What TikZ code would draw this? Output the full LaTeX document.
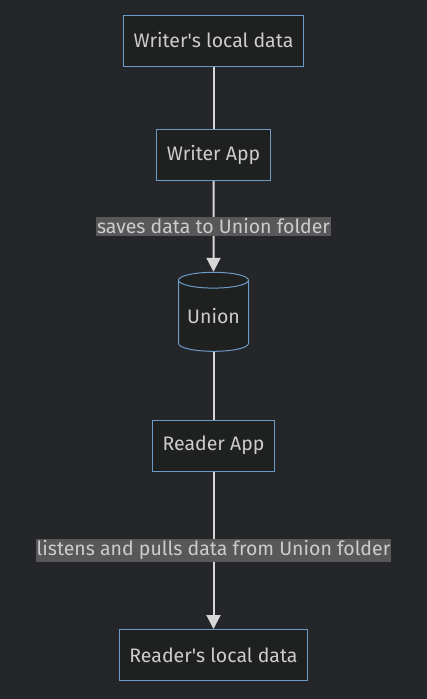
\documentclass[tikz,border=0pt]{standalone}
\usepackage{fontspec}
\setmainfont{Fira Sans}
\usetikzlibrary{arrows.meta,positioning,shapes.geometric}
\definecolor{bgdark}{HTML}{25262A}
\definecolor{nodefill}{HTML}{1F2020}
\definecolor{nodeline}{HTML}{6C9BC6}
\definecolor{edgeline}{HTML}{D6D6D6}
\definecolor{labelbg}{HTML}{585858}
\definecolor{textgray}{HTML}{CCCCCC}

\begin{document}
\begin{tikzpicture}[x=1pt,y=-1pt,
    box/.style={draw=nodeline,fill=nodefill,line width=1pt,text=textgray,
        font=\fontsize{19.5}{23}\selectfont,inner xsep=10pt,minimum height=51pt},
    store/.style={cylinder,shape border rotate=90,aspect=0.3,draw=nodeline,
        fill=nodefill,line width=1pt,text=textgray,font=\fontsize{19.5}{23}\selectfont,
        minimum width=70pt,minimum height=79pt,inner sep=0pt},
    link/.style={draw=edgeline,line width=2pt},
    arr/.style={link,-{Triangle[length=14pt,width=14pt]}},
    elabel/.style={fill=labelbg,text=textgray,inner xsep=1pt,inner ysep=2pt,
        font=\fontsize{19.5}{23}\selectfont}]
    \useasboundingbox[fill=bgdark] (0,0) rectangle (427,699);
    % writer side
    \node[box] (wdata) at (213.5,40.5) {Writer\textquotesingle s local data};
    \node[box] (wapp) at (213.5,155) {Writer App};
    % shared folder
    \node[store] (union) at (213.5,316) {Union};
    % reader side
    \node[box] (rapp) at (213.5,445.5) {Reader App};
    \node[box] (rdata) at (213.5,655) {Reader\textquotesingle s local data};
    \draw[link] (wdata) -- (wapp);
    \draw[arr] (wapp) -- node[elabel] {saves data to Union folder} (union);
    \draw[link] (union) -- (rapp);
    \draw[arr] (rapp) -- node[elabel] {listens and pulls data from Union folder} (rdata);
\end{tikzpicture}
\end{document}
